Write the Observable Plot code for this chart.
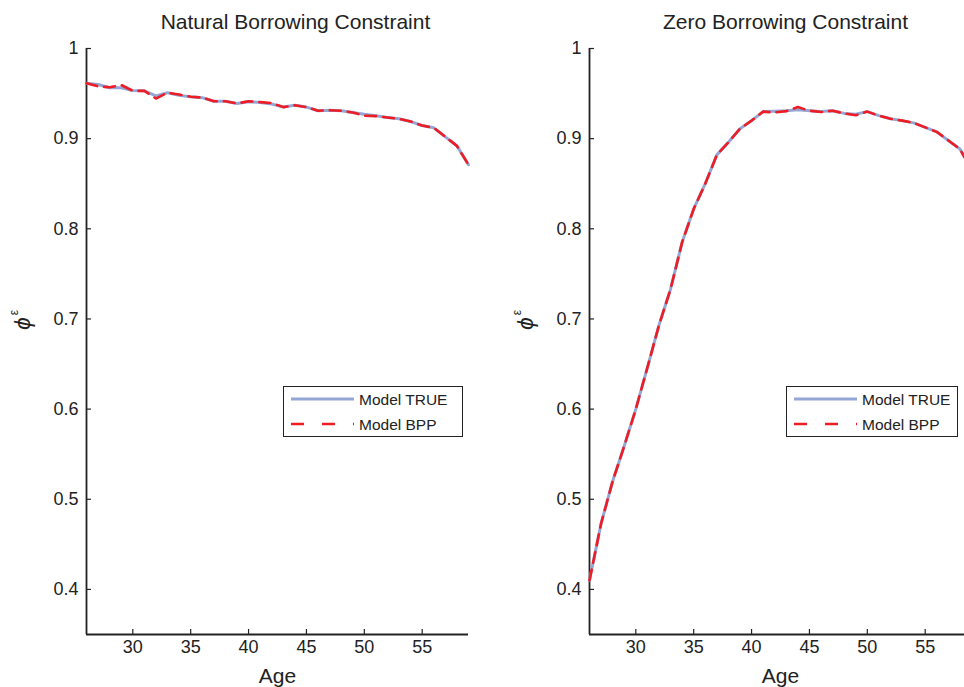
<!DOCTYPE html>
<html><head><meta charset="utf-8">
<script src="https://cdn.jsdelivr.net/npm/d3@7"></script>
<script src="https://cdn.jsdelivr.net/npm/@observablehq/plot@0.6"></script>
<style>
html,body{margin:0;padding:0;background:#fff;overflow:hidden;width:964px;height:687px;}
#wrap{position:relative;width:964px;height:687px;overflow:hidden;font-family:"Liberation Sans",Arial,sans-serif;color:#222;}
.panel{position:absolute;top:0;}
.legend{position:absolute;border:1px solid #222;background:#fff;box-sizing:border-box;}
.legend svg{position:absolute;left:0;top:0;}
</style></head><body><div id="wrap"></div>
<script>
const ages = [26,27,28,29,30,31,32,33,34,35,36,37,38,39,40,41,42,43,44,45,46,47,48,49,50,51,52,53,54,55,56,57,58,59];
const natTrue = [0.9615,0.960,0.9565,0.9565,0.9535,0.953,0.9475,0.951,0.948,0.9465,0.9455,0.9415,0.9415,0.939,0.941,0.940,0.9385,0.935,0.937,0.935,0.931,0.9315,0.931,0.929,0.927,0.9255,0.9235,0.922,0.919,0.9145,0.912,0.902,0.892,0.871];
const natBpp  = [0.9615,0.958,0.957,0.9595,0.953,0.953,0.9445,0.951,0.949,0.9465,0.9455,0.9415,0.9415,0.939,0.9415,0.9405,0.9395,0.935,0.937,0.935,0.931,0.9315,0.931,0.929,0.9255,0.925,0.9235,0.922,0.919,0.9145,0.912,0.902,0.892,0.871];
const zeroTrue = [0.41,0.473,0.52,0.559,0.600,0.646,0.693,0.733,0.785,0.822,0.850,0.882,0.896,0.911,0.920,0.930,0.9305,0.931,0.932,0.931,0.930,0.931,0.928,0.927,0.930,0.9255,0.922,0.920,0.9175,0.9125,0.9075,0.898,0.8885,0.866];
const zeroBpp  = [0.41,0.473,0.52,0.559,0.600,0.646,0.693,0.733,0.785,0.822,0.850,0.882,0.896,0.911,0.920,0.930,0.929,0.9305,0.935,0.931,0.9295,0.931,0.928,0.926,0.930,0.9255,0.922,0.920,0.9175,0.9125,0.9075,0.898,0.8885,0.866];
const xTicks = [30,35,40,45,50,55];
const yTicks = [0.4,0.5,0.6,0.7,0.8,0.9,1];
const yTickLabels = ["0.4","0.5","0.6","0.7","0.8","0.9","1"];
const xDomain = [26,59];
const yDomain = [0.35,1];
const titles = ["Natural Borrowing Constraint","Zero Borrowing Constraint"];
const seriesNames = ["Model TRUE","Model BPP"];
const trueColor = "#93a6d6", bppColor = "#ee1c24";
const font = "'Liberation Sans', Arial, sans-serif";

function panel(title, tv, bv, titleDx) {
  const data = ages.map((a,i)=>({age:a, t:tv[i], b:bv[i]}));
  return Plot.plot({
    width: 482, height: 687,
    marginLeft: 86, marginRight: 14, marginTop: 48, marginBottom: 53,
    style: {fontFamily: font, fontSize: "18px", color: "#222", background: "transparent", overflow: "visible"},
    x: {domain: xDomain},
    y: {domain: yDomain},
    marks: [
      Plot.axisX({ticks: xTicks, tickSize: -5, tickPadding: 11, label: null, fontSize: 18, strokeWidth: 1.2}),
      Plot.axisY({ticks: yTicks, tickSize: -5, tickPadding: 13, label: null, fontSize: 18, strokeWidth: 1.2,
        tickFormat: d => yTickLabels[yTicks.indexOf(d)]}),
      Plot.ruleX([xDomain[0]], {stroke: "#222", strokeWidth: 1.8}),
      Plot.ruleY([yDomain[0]], {stroke: "#222", strokeWidth: 1.8}),
      Plot.line(data, {x: "age", y: "t", stroke: trueColor, strokeWidth: 3}),
      Plot.line(data, {x: "age", y: "b", stroke: bppColor, strokeWidth: 2.6, strokeDasharray: "11,7"}),
      Plot.text([title], {text: d => d, frameAnchor: "top", lineAnchor: "middle", dx: titleDx, dy: -26, fontSize: 21, fill: "#222"}),
      Plot.text(["Age"], {text: d => d, frameAnchor: "bottom", lineAnchor: "middle", dy: 42, fontSize: 21, fill: "#222"}),
      Plot.text(["ϕ"], {text: d => d, frameAnchor: "left", textAnchor: "middle", lineAnchor: "middle", dx: -64, dy: -18, rotate: -90, fontSize: 23, fontStyle: "italic", fill: "#222"}),
      Plot.text(["ε"], {text: d => d, frameAnchor: "left", textAnchor: "middle", lineAnchor: "middle", dx: -72, dy: -29, rotate: -90, fontSize: 12, fill: "#222"})
    ]
  });
}

function legend(left, top, w, h) {
  const div = document.createElement("div");
  div.className = "legend";
  Object.assign(div.style, {left: left+"px", top: top+"px", width: w+"px", height: h+"px"});
  const svg = d3.create("svg").attr("width", w).attr("height", h).style("font-family", font);
  const items = [{name: seriesNames[0], color: trueColor, dash: null}, {name: seriesNames[1], color: bppColor, dash: "13,18"}];
  items.forEach((it, i) => {
    const y = 12 + i*25;
    svg.append("line").attr("x1", 7).attr("x2", 70).attr("y1", y).attr("y2", y)
      .attr("stroke", it.color).attr("stroke-width", it.dash ? 2.6 : 3).attr("stroke-dasharray", it.dash);
    svg.append("text").attr("x", 75).attr("y", y).attr("dy", "0.36em").attr("font-size", 15.5).attr("fill", "#222").text(it.name);
  });
  div.appendChild(svg.node());
  return div;
}

const wrap = document.getElementById("wrap");
const p1 = panel(titles[0], natTrue, natBpp, 18);
p1.classList.add("panel"); p1.style.left = "0px";
const p2 = panel(titles[1], zeroTrue, zeroBpp, 5);
p2.classList.add("panel"); p2.style.left = "503px";
wrap.appendChild(p1);
wrap.appendChild(p2);
wrap.appendChild(legend(283, 386, 180, 51));
wrap.appendChild(legend(786, 386, 172, 51));
</script></body></html>
